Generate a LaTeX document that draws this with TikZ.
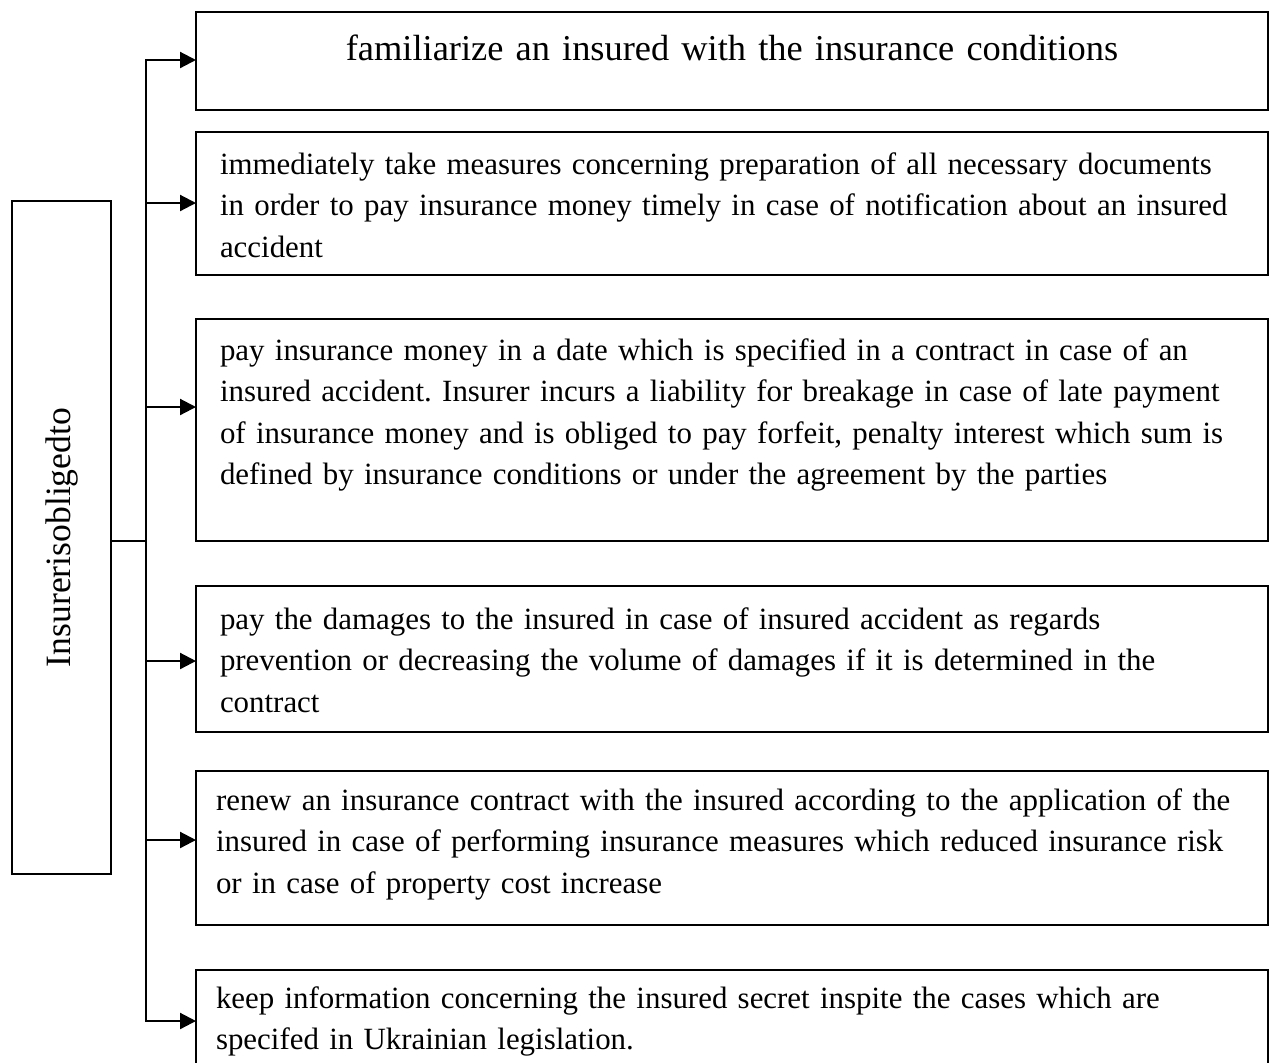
\documentclass[tikz,border=0pt]{standalone}
\usepackage{fontspec}
\setmainfont{Liberation Serif}
\usepackage{tikz}
\usetikzlibrary{arrows.meta,positioning,calc}
\hyphenpenalty=10000
\exhyphenpenalty=10000
\frenchspacing
\tikzset{
    every picture/.style={line join=miter},
    headbox/.style={draw=black,line width=0.9pt,minimum width=49.5pt,minimum height=336.5pt,
      inner sep=0pt,outer sep=0pt,font=\fontsize{17.8pt}{22pt}\selectfont},
    dutybox/.style={draw=black,line width=0.9pt,anchor=north west,
      text width=512pt,inner xsep=12pt,inner ysep=0pt,outer sep=0pt,align=left,
      font=\fontsize{15.45pt}{20.75pt}\selectfont},
    flowline/.style={draw=black,line width=1.1pt},
    flowarrow/.style={flowline,-{Triangle[length=8pt,width=8pt]}}
}
\begin{document}
\begin{tikzpicture}[x=0.5pt,y=-0.5pt]
    \useasboundingbox (0,0) rectangle (1275,1062);
    % left box
    \node[headbox] (insurer) at (61.5,537.5) {\rotatebox{90}{Insurerisobligedto}};
    % duties
    \node[dutybox,align=center,text height=24pt,text depth=25pt,
      font=\fontsize{18.2pt}{22pt}\selectfont] (d1) at (196,12)
      {familiarize an insured with the insurance conditions};
    \node[dutybox,text height=21pt,text depth=50.5pt] (d2) at (196,132)
      {immediately take measures concerning preparation of all necessary documents\\
       in order to pay insurance money timely in case of notification about an insured\\
       accident};
    \node[dutybox,text height=20.5pt,text depth=90.5pt] (d3) at (196,319)
      {pay insurance money in a date which is specified in a contract in case of an\\
       insured accident. Insurer incurs a liability for breakage in case of late payment\\
       of insurance money and is obliged to pay forfeit, penalty interest which sum is\\
       defined by insurance conditions or under the agreement by the parties};
    \node[dutybox,text height=21.5pt,text depth=51.5pt] (d4) at (196,586)
      {pay the damages to the insured in case of insured accident as regards\\
       prevention or decreasing the volume of damages if it is determined in the\\
       contract};
    \node[dutybox,text height=19.5pt,text depth=57.5pt,inner xsep=10pt,text width=516pt] (d5) at (196,771)
      {renew an insurance contract with the insured according to the application of the\\
       insured in case of performing insurance measures which reduced insurance risk\\
       or in case of property cost increase};
    \node[dutybox,text height=19pt,text depth=46pt,inner xsep=10pt,text width=516pt] (d6) at (196,970)
      {keep information concerning the insured secret inspite the cases which are\\
       specifed in Ukrainian legislation.};
    % trunk and arrows
    \coordinate (a1) at (146,60);
    \coordinate (a2) at (146,203);
    \coordinate (a3) at (146,407);
    \coordinate (a4) at (146,661);
    \coordinate (a5) at (146,840);
    \coordinate (a6) at (146,1021);
    \coordinate (hub) at (146,541);
    \draw[flowline] (insurer.east |- hub) -- (hub);
    \draw[flowarrow] (hub) -- (a1) -- (a1 -| d1.west);
    \draw[flowarrow] (hub) -- (a6) -- (a6 -| d6.west);
    \foreach \i in {2,...,5}
        \draw[flowarrow] (a\i) -- (a\i -| d\i.west);
\end{tikzpicture}
\end{document}
